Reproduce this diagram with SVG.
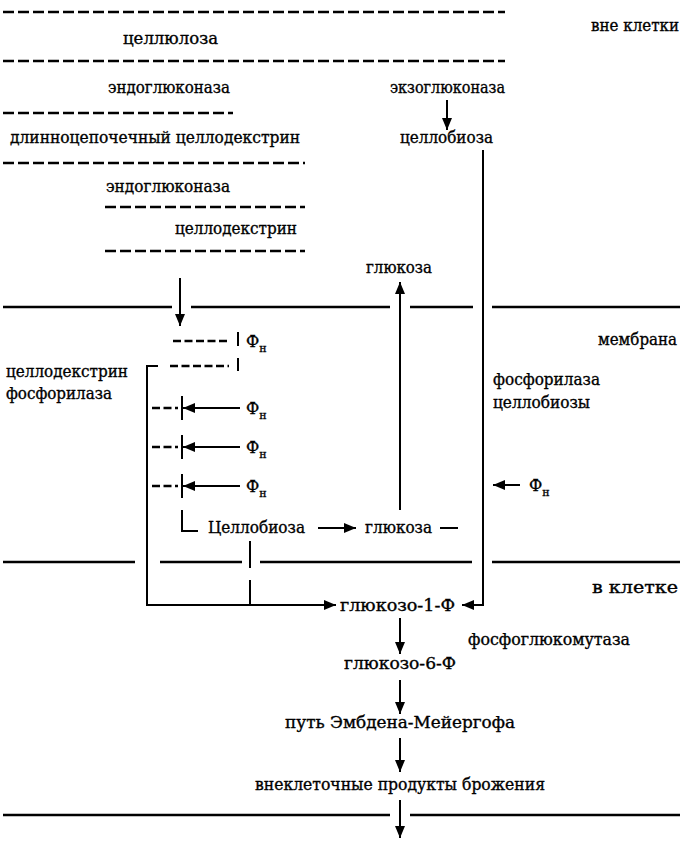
<svg xmlns="http://www.w3.org/2000/svg" width="684" height="841" viewBox="0 0 684 841">
<style>
text { font-family: "DejaVu Serif", "Liberation Serif", serif; font-size: 16px; fill: #000; stroke: #000; stroke-width: 0.35; }
.mid { text-anchor: middle; }
.sub { font-size: 11px; }
.dash { stroke: #000; stroke-width: 2.5; stroke-dasharray: 11 4; fill: none; }
.sdash { stroke: #000; stroke-width: 2.5; stroke-dasharray: 8 3.5; fill: none; }
.line { stroke: #000; stroke-width: 2; fill: none; }
.mem { stroke: #000; stroke-width: 2.5; fill: none; }
.arr { stroke: #000; stroke-width: 2; fill: none; marker-end: url(#ah); }
</style>
<defs>
<marker id="ah" viewBox="0 0 12 10" refX="12" refY="5" markerWidth="12" markerHeight="10" orient="auto" markerUnits="userSpaceOnUse">
<path d="M0,0 L12,5 L0,10 z" fill="#000"/>
</marker>
</defs>
<rect width="684" height="841" fill="#fff"/>

<g id="layers">
<line class="dash" x1="3" y1="12" x2="505" y2="12"/>
<line class="dash" x1="3" y1="61" x2="505" y2="61"/>
<line class="dash" x1="3" y1="113" x2="233" y2="113"/>
<line class="dash" x1="3" y1="163" x2="305" y2="163"/>
<line class="dash" x1="105" y1="207" x2="305" y2="207"/>
<line class="dash" x1="105" y1="251" x2="305" y2="251"/>
</g>

<g id="membrane">
<line class="mem" x1="3" y1="307" x2="172" y2="307"/>
<line class="mem" x1="191" y1="307" x2="390" y2="307"/>
<line class="mem" x1="410" y1="307" x2="473" y2="307"/>
<line class="mem" x1="492" y1="307" x2="680" y2="307"/>
<line class="mem" x1="3" y1="562" x2="135" y2="562"/>
<line class="mem" x1="160" y1="562" x2="242" y2="562"/>
<line class="mem" x1="260" y1="562" x2="472" y2="562"/>
<line class="mem" x1="492" y1="562" x2="680" y2="562"/>
<line class="mem" x1="3" y1="815" x2="390" y2="815"/>
<line class="mem" x1="410" y1="815" x2="680" y2="815"/>
</g>

<g id="n-outside"><text x="591" y="31" textLength="88" lengthAdjust="spacingAndGlyphs">вне клетки</text></g>
<g id="n-cellulose"><text x="123" y="44" textLength="95" lengthAdjust="spacingAndGlyphs">целлюлоза</text></g>
<g id="n-endo1"><text x="108" y="93" textLength="122" lengthAdjust="spacingAndGlyphs">эндоглюконаза</text></g>
<g id="n-exo"><text x="390" y="93" textLength="115" lengthAdjust="spacingAndGlyphs">экзоглюконаза</text></g>
<g id="n-longcd"><text x="10" y="143" textLength="290" lengthAdjust="spacingAndGlyphs">длинноцепочечный целлодекстрин</text></g>
<g id="n-cellobiose-top"><text x="400" y="143" textLength="93" lengthAdjust="spacingAndGlyphs">целлобиоза</text></g>
<g id="n-endo2"><text x="106" y="192" textLength="124" lengthAdjust="spacingAndGlyphs">эндоглюконаза</text></g>
<g id="n-cd"><text x="175" y="234" textLength="122" lengthAdjust="spacingAndGlyphs">целлодекстрин</text></g>
<g id="n-glucose-top"><text x="366" y="273" textLength="66" lengthAdjust="spacingAndGlyphs">глюкоза</text></g>
<g id="n-membrane"><text x="598" y="345" textLength="79" lengthAdjust="spacingAndGlyphs">мембрана</text></g>
<g id="n-cdp"><text x="6" y="377" textLength="122" lengthAdjust="spacingAndGlyphs">целлодекстрин</text><text x="6" y="399" textLength="106" lengthAdjust="spacingAndGlyphs">фосфорилаза</text></g>
<g id="n-cbp"><text x="493" y="385" textLength="107" lengthAdjust="spacingAndGlyphs">фосфорилаза</text><text x="493" y="408" textLength="97" lengthAdjust="spacingAndGlyphs">целлобиозы</text></g>
<g id="n-pi1"><text x="246" y="347" font-size="18">Ф<tspan class="sub" dy="5">н</tspan></text></g>
<g id="n-pi2"><text x="246" y="414" font-size="18">Ф<tspan class="sub" dy="5">н</tspan></text></g>
<g id="n-pi3"><text x="246" y="453" font-size="18">Ф<tspan class="sub" dy="5">н</tspan></text></g>
<g id="n-pi4"><text x="246" y="492" font-size="18">Ф<tspan class="sub" dy="5">н</tspan></text></g>
<g id="n-pi5"><text x="529" y="491" font-size="18">Ф<tspan class="sub" dy="5">н</tspan></text></g>
<g id="n-cellobiose-in"><text x="208" y="533" textLength="97" lengthAdjust="spacingAndGlyphs">Целлобиоза</text></g>
<g id="n-glucose-in"><text x="365" y="533" textLength="67" lengthAdjust="spacingAndGlyphs">глюкоза</text></g>
<g id="n-incell"><text x="592" y="593" textLength="86" lengthAdjust="spacingAndGlyphs">в клетке</text></g>
<g id="n-g1p"><text x="340" y="611" textLength="115" lengthAdjust="spacingAndGlyphs">глюкозо-1-Ф</text></g>
<g id="n-pgm"><text x="468" y="645" textLength="162" lengthAdjust="spacingAndGlyphs">фосфоглюкомутаза</text></g>
<g id="n-g6p"><text x="344" y="669" textLength="112" lengthAdjust="spacingAndGlyphs">глюкозо-6-Ф</text></g>
<g id="n-emp"><text x="285" y="728" textLength="230" lengthAdjust="spacingAndGlyphs">путь Эмбдена-Мейергофа</text></g>
<g id="n-products"><text x="255" y="790" textLength="290" lengthAdjust="spacingAndGlyphs">внеклеточные продукты брожения</text></g>

<g id="connectors">
<line class="arr" x1="447" y1="100" x2="447" y2="130"/>
<line class="arr" x1="180" y1="278" x2="180" y2="326"/>
<line class="sdash" x1="173" y1="341" x2="229" y2="341"/>
<line class="line" x1="238" y1="332" x2="238" y2="346"/>
<path class="arr" d="M158,366 H147 V605 H336"/>
<line class="sdash" x1="170" y1="366" x2="229" y2="366"/>
<line class="line" x1="238" y1="358" x2="238" y2="371"/>
<line class="sdash" x1="152" y1="408" x2="178" y2="408"/>
<line class="line" x1="182" y1="396" x2="182" y2="420"/>
<line class="arr" x1="240" y1="408" x2="183" y2="408"/>
<line class="sdash" x1="152" y1="447" x2="178" y2="447"/>
<line class="line" x1="182" y1="435" x2="182" y2="459"/>
<line class="arr" x1="240" y1="447" x2="183" y2="447"/>
<line class="sdash" x1="152" y1="486" x2="178" y2="486"/>
<line class="line" x1="182" y1="474" x2="182" y2="498"/>
<line class="arr" x1="240" y1="486" x2="183" y2="486"/>
<path class="line" d="M182,510 V531 H198"/>
<line class="arr" x1="318" y1="528" x2="356" y2="528"/>
<line class="line" x1="440" y1="528" x2="458" y2="528"/>
<line class="arr" x1="400" y1="510" x2="400" y2="282"/>
<path class="arr" d="M483,150 V605 H462"/>
<line class="arr" x1="520" y1="485" x2="493" y2="485"/>
<line class="line" x1="250" y1="541" x2="250" y2="568"/>
<line class="line" x1="250" y1="580" x2="250" y2="605"/>
<line class="arr" x1="400" y1="618" x2="400" y2="654"/>
<line class="arr" x1="400" y1="680" x2="400" y2="714"/>
<line class="arr" x1="400" y1="738" x2="400" y2="772"/>
<line class="arr" x1="400" y1="800" x2="400" y2="838"/>
</g>
</svg>
